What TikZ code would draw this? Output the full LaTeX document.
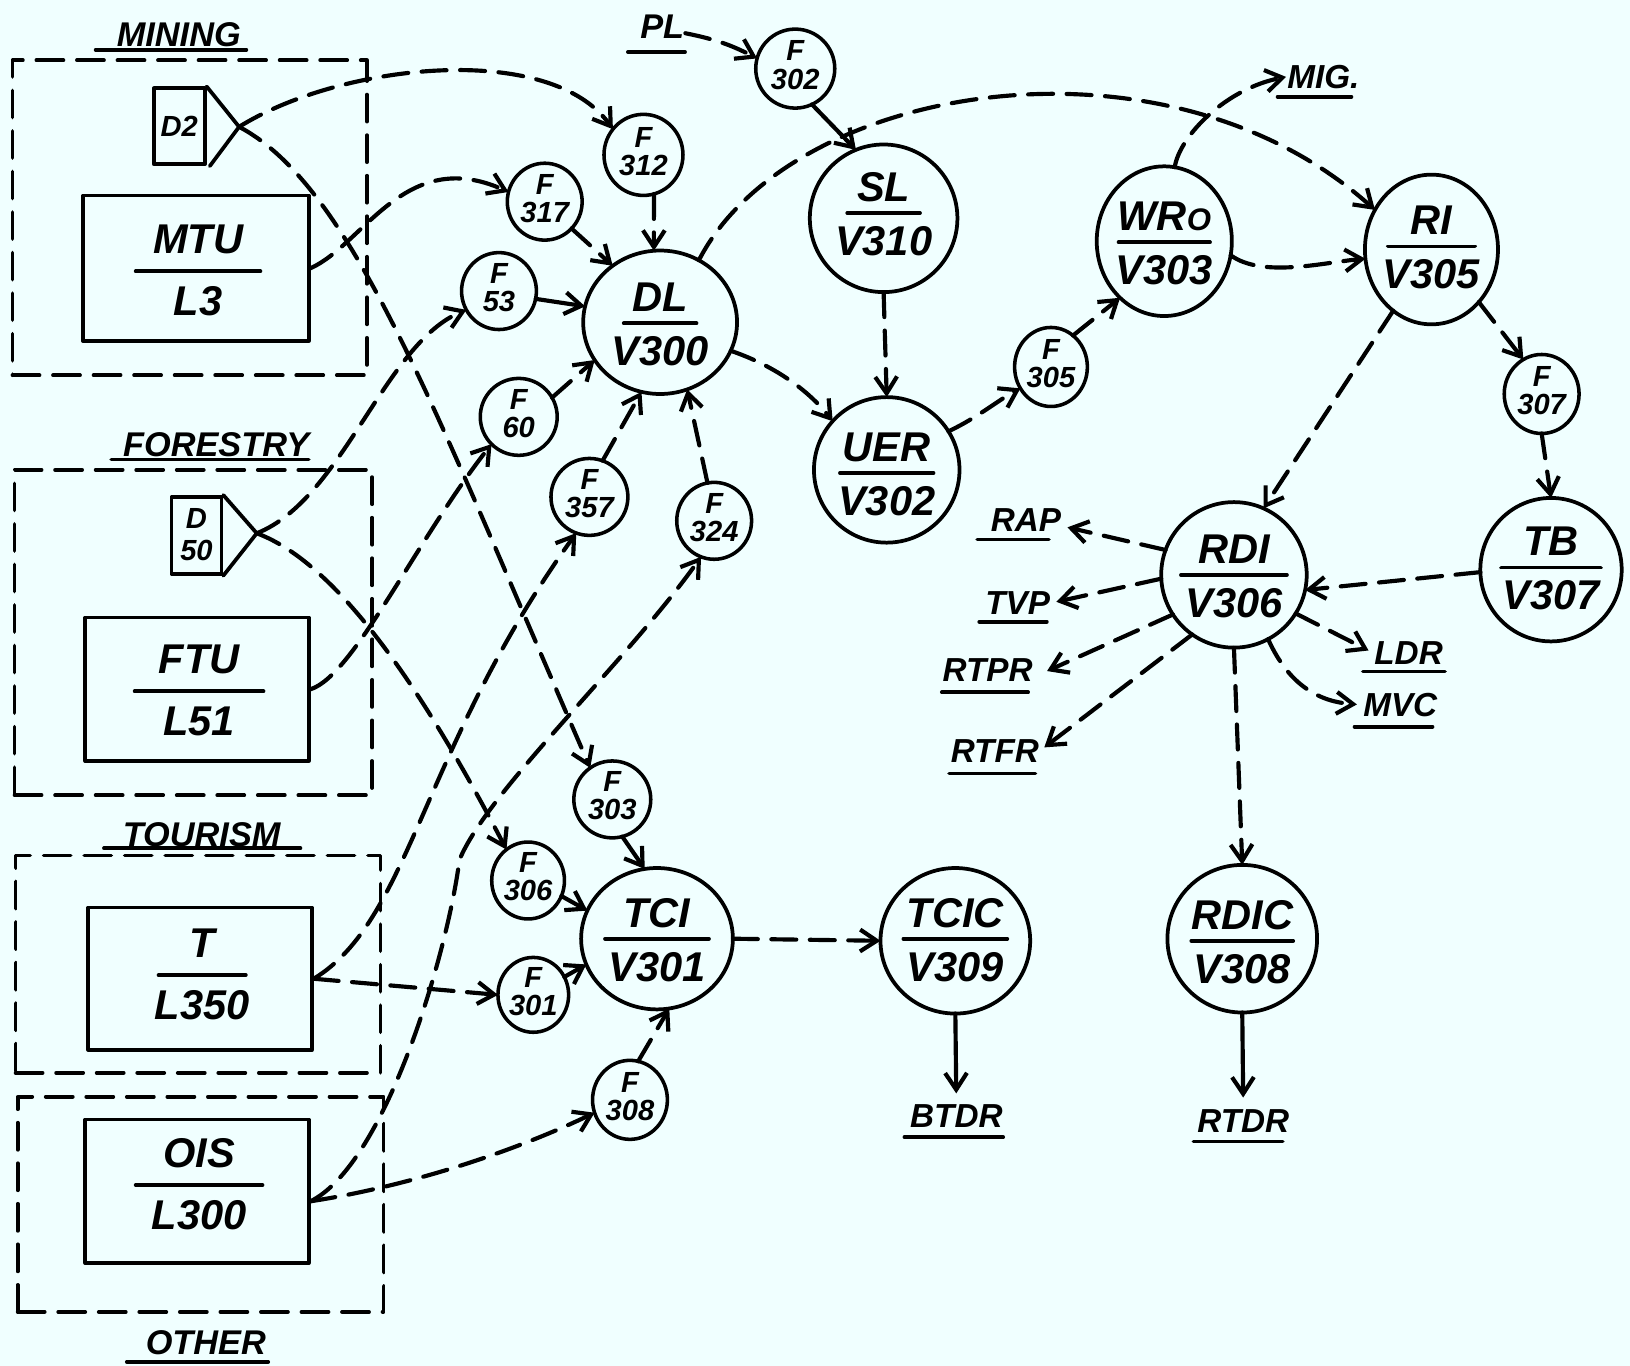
\documentclass[tikz,border=0pt]{standalone}
\usepackage{fontspec}
\setmainfont{Liberation Sans}
\usetikzlibrary{arrows.meta,shapes.geometric}
\definecolor{paper}{HTML}{F0FFFF}
\newcommand\bigtxt{\fontsize{40}{40}\selectfont\bfseries\itshape}
\newcommand\ftxt{\fontsize{28}{28}\selectfont\bfseries\itshape}
\newcommand\labtxt{\fontsize{32}{32}\selectfont\bfseries\itshape}
\newcommand\grptxt{\fontsize{33}{33}\selectfont\bfseries\itshape}
% big round node: name,x,y,rx,ry,top,bottom,sep y,half length
\newcommand\bign[9]{%
  \node[rnd, minimum width=2*#4, minimum height=2*#5] (#1) at (#2,#3) {};
  \node[bigt] (#1-top) at (#2,#8-25) {#6};
  \node[bigt] (#1-bot) at (#2,#8+27) {#7};
  \draw[rule] (#2-#9,#8) -- (#2+#9,#8);}
% small flow node
\newcommand\fnode[6]{%
  \node[fn, minimum width=2*#4, minimum height=2*#5] (#1) at (#2,#3) {};
  \node[ft] (#1-f) at (#2,#3-17) {F};
  \node[ft] (#1-n) at (#2,#3+10) {#6};}
% rectangle box: name,x1,y1,x2,y2,top,bottom,sep y,half length
\newcommand\boxn[9]{%
  \node[box, minimum width=#4-#2, minimum height=#5-#3] (#1) at ({(#2+#4)/2},{(#3+#5)/2}) {};
  \node[bigt] (#1-top) at ({(#2+#4)/2+2},#8-31) {#6};
  \node[bigt] (#1-bot) at ({(#2+#4)/2+2},#8+29) {#7};
  \draw[rule] ({(#2+#4)/2+2-#9},#8) -- ({(#2+#4)/2+2+#9},#8);}
% underlined label: name,x,y,text,ul y,ul x1,ul x2,style
\newcommand\ulab[8]{%
  \node[#8] (#1) at (#2,#3) {#4};
  \draw[ul] (#6,#5) -- (#7,#5);}
\begin{document}
\begin{tikzpicture}[x=1pt,y=-1pt,
  line cap=round, line join=round,
  rnd/.style={ellipse, draw, line width=3.6pt, inner sep=0pt, outer sep=0pt},
  fn/.style={ellipse, draw, line width=3.4pt, inner sep=0pt, outer sep=0pt},
  box/.style={rectangle, draw, line width=3.6pt, inner sep=0pt},
  grp/.style={rectangle, draw, line width=3.6pt, dash pattern=on 26pt off 13pt},
  bigt/.style={font=\bigtxt, inner sep=0pt},
  ft/.style={font=\ftxt, inner sep=0pt},
  lab/.style={font=\labtxt, inner sep=1pt},
  grplab/.style={font=\grptxt, inner sep=1pt},
  rule/.style={line width=3.6pt},
  ul/.style={line width=3.6pt},
  tip/.style={-{Straight Barb[length=16pt,width=21pt]}},
  conn/.style={line width=4pt, dash pattern=on 24pt off 13pt, tip},
  sconn/.style={line width=4pt, tip}]
\fill[paper] (0,0) rectangle (1568,1314);
\useasboundingbox (0,0) rectangle (1568,1314);

% group frames
\node[grp, minimum width=341, minimum height=303] (gMIN) at (182.5,209.5) {};
\node[grp, minimum width=344, minimum height=313] (gFOR) at (186,608.5) {};
\node[grp, minimum width=351, minimum height=209] (gTOU) at (190.5,927.5) {};
\node[grp, minimum width=352, minimum height=207] (gOTH) at (193,1158.5) {};

% labels
\ulab{MINING}{172}{33}{MINING}{48}{92}{237}{grplab}
\ulab{FORESTRY}{208}{428}{FORESTRY}{442}{107}{297}{grplab}
\ulab{TOURISM}{194}{803}{TOURISM}{816}{100}{289}{grplab}
\ulab{OTHER}{198}{1292}{OTHER}{1310}{122}{258}{grplab}
\ulab{PL}{637}{26}{PL}{50}{604}{659}{grplab}
\ulab{MIG}{1273}{74}{MIG.}{93}{1229}{1300}{lab}
\ulab{RAP}{987}{500}{RAP}{519}{940}{1009}{lab}
\ulab{TVP}{979}{580}{TVP}{598}{942}{1007}{lab}
\ulab{RTPR}{950}{645}{RTPR}{666}{906}{989}{lab}
\ulab{RTFR}{957}{722}{RTFR}{744}{913}{996}{lab}
\ulab{LDR}{1355}{628}{LDR}{646}{1311}{1390}{lab}
\ulab{MVC}{1347}{678}{MVC}{699}{1303}{1378}{lab}
\ulab{RTDR}{1196}{1078}{RTDR}{1098}{1148}{1234}{lab}
\ulab{BTDR}{920}{1074}{BTDR}{1094}{870}{965}{lab}

% source boxes
\boxn{MTU}{80}{188}{297}{328}{MTU}{L3}{261}{60}
\boxn{FTU}{82}{594}{297}{732}{FTU}{L51}{665}{62}
\boxn{T}{85}{873}{300}{1010}{T}{L350}{938}{42}
\boxn{OIS}{82}{1077}{297}{1215}{OIS}{L300}{1140}{61}

\node[box, minimum width=49, minimum height=73] (D2) at (172.5,121.5) {};
\node[ft] (D2-l) at (D2) {D2};
\coordinate (D2tip) at (230,122);
\draw[rule] (D2.north east) -- (D2tip) -- ([xshift=3pt]D2.south east);
\node[box, minimum width=48, minimum height=74] (D50) at (189,515) {};
\node[ft] (D50-a) at (189,499) {D};
\node[ft] (D50-b) at (189,530) {50};
\coordinate (D50tip) at (247,513);
\draw[rule] (D50.north east) -- (D50tip) -- (D50.south east);

% big nodes
\bign{DL}{635}{310}{74}{69}{DL}{V300}{311}{35}
\bign{SL}{850}{210}{71}{71}{SL}{V310}{205}{35}
\bign{UER}{853}{452}{70}{70}{UER}{V302}{455}{45}
\bign{WRO}{1120}{232}{65}{72}{WR{\fontsize{30}{30}\selectfont O}}{V303}{233}{44}
\bign{RI}{1377}{240}{64}{72}{RI}{V305}{237}{42}
\bign{RDI}{1187}{553}{70}{70}{RDI}{V306}{553}{51}
\bign{TB}{1492}{548}{68}{69}{TB}{V307}{546}{48}
\bign{RDIC}{1195}{903}{72}{71}{RDIC}{V308}{905}{49}
\bign{TCIC}{919}{905}{72}{70}{TCIC}{V309}{903}{50}
\bign{TCI}{632}{903}{73}{68}{TCI}{V301}{903}{50}

% small nodes
\fnode{F302}{765}{66}{38}{38}{302}
\fnode{F312}{619}{149}{38}{39}{312}
\fnode{F317}{524}{194}{36}{37}{317}
\fnode{F53}{480}{280}{36}{37}{53}
\fnode{F60}{499}{401}{37}{37}{60}
\fnode{F357}{567}{478}{37}{37}{357}
\fnode{F324}{687}{501}{36}{37}{324}
\fnode{F303}{589}{769}{37}{37}{303}
\fnode{F306}{508}{847}{35}{37}{306}
\fnode{F301}{513}{957}{34}{36}{301}
\fnode{F308}{606}{1058}{36}{38}{308}
\fnode{F305}{1011}{353}{35}{38}{305}
\fnode{F307}{1483}{379}{36}{38}{307}

% connectors right part
\draw[conn] (PL.-15) to[bend left=8] (F302.165);
\draw[sconn] (F302.-65) -- (SL.112);
\draw[conn] (SL.south) -- (UER.north);
\draw[conn] (DL.-22) .. controls (740,350) and (775,372) .. (UER.138);
\draw[conn] (UER.32) .. controls (940,402) and (960,385) .. (F305.215);
\draw[conn] (F305.55) -- (WRO.232);
\draw[conn] (WRO.82) .. controls (1135,130) and (1180,85) .. (MIG.west);
\draw[conn] (WRO.-12) .. controls (1215,268) and (1275,252) .. (RI.188);
\draw[conn] (DL.58) .. controls (760,80) and (1120,20) .. (RI.145);
\draw[conn] (RI.-48) -- (F307.118);
\draw[conn] (F307.south) -- (TB.north);
\draw[conn] (RI.238) -- (RDI.66);
\draw[conn] (TB.182) -- (RDI.-12);
\draw[conn, shorten >=5pt] (RDI.160) -- (RAP.-10);
\draw[conn, shorten >=5pt] (RDI.183) -- (TVP.east);
\draw[conn, shorten >=14pt] (RDI.213) -- (RTPR.-8);
\draw[conn, shorten >=5pt] (RDI.235) -- (RTFR.east);
\draw[conn, shorten >=5pt] (RDI.-32) -- (LDR.west);
\draw[conn, shorten >=5pt] (RDI.-62) .. controls (1240,660) and (1270,675) .. (MVC.west);
\draw[conn] (RDI.south) -- (RDIC.north);
\draw[sconn, shorten >=10pt] (RDIC.south) -- (RTDR.north);
\draw[conn] (TCI.east) -- (TCIC.west);
\draw[sconn, shorten >=10pt] (TCIC.south) -- (BTDR.north);
\draw[sconn] (F303.-75) -- (TCI.100);
\draw[sconn] (F306.-25) -- (TCI.158);
\draw[sconn] (F301.30) -- (TCI.200);
\draw[conn] (F308.78) -- (TCI.-80);
\draw[conn] (F312.-75) -- (DL.95);
\draw[conn] (F317.-45) -- (DL.130);
\draw[sconn] (F53.-12) -- (DL.168);
\draw[conn] (F60.30) -- (DL.210);
\draw[conn] (F357.70) -- (DL.-105);
\draw[conn] (F324.100) -- (DL.-68);

% connectors left part
\draw[conn] (D2tip) .. controls (330,60) and (530,40) .. (F312.140);
\draw[conn] (D2tip) .. controls (340,180) and (420,400) .. (F303.125);
\draw[conn] (MTU.east) .. controls (350,235) and (390,140) .. (F317.165);
\draw[conn] (D50tip) .. controls (330,480) and (370,330) .. (F53.210);
\draw[conn] (D50tip) .. controls (320,540) and (400,650) .. (F306.125);
\draw[conn] (FTU.east) .. controls (340,650) and (400,520) .. (F60.225);
\draw[conn] (T.east) -- (F301.west);
\draw[conn] (T.east) .. controls (395,885) and (405,720) .. (F357.250);
\draw[conn] (OIS.-5) .. controls (400,1140) and (500,1105) .. (F308.200);
\coordinate (oisvia) at (442,827);
\draw[conn] (OIS.-5) .. controls (370,1120) and (430,920) .. (oisvia) .. controls (470,760) and (600,640) .. (F324.250);
\end{tikzpicture}
\end{document}
